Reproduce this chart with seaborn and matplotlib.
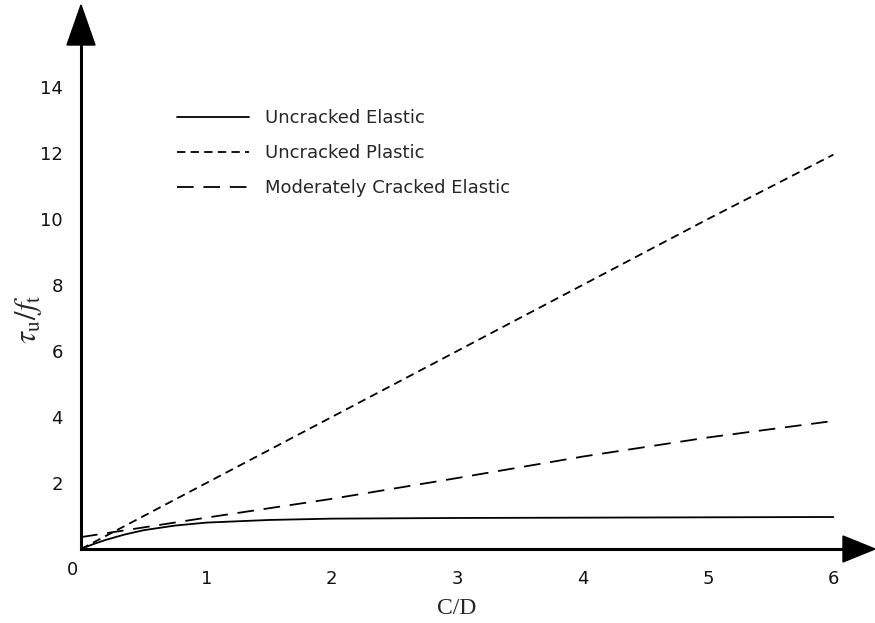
import matplotlib
matplotlib.use('Agg')
import matplotlib.pyplot as plt
from matplotlib.patches import Polygon
import seaborn as sns
import pandas as pd

# values
cd_elastic = [0, 0.1, 0.2, 0.35, 0.5, 0.75, 1, 1.5, 2, 3, 4, 5, 6]
uncracked_elastic = [0, 0.15, 0.28, 0.44, 0.57, 0.71, 0.8, 0.88, 0.92, 0.94, 0.95, 0.96, 0.97]

cd_lin = [0, 1, 2, 3, 4, 5, 6]
uncracked_plastic = [0, 2.0, 4.0, 6.0, 8.0, 10.0, 11.95]
cracked_elastic = [0.36, 0.95, 1.52, 2.15, 2.8, 3.38, 3.88]

labels = ['Uncracked Elastic', 'Uncracked Plastic', 'Moderately Cracked Elastic']
x_ticks = [1, 2, 3, 4, 5, 6]
y_ticks = [2, 4, 6, 8, 10, 12, 14]


def to_frame():
    '''stack the three curves into one long dataframe'''
    parts = [
        pd.DataFrame({'cd': cd_elastic, 'tau': uncracked_elastic, 'case': labels[0]}),
        pd.DataFrame({'cd': cd_lin, 'tau': uncracked_plastic, 'case': labels[1]}),
        pd.DataFrame({'cd': cd_lin, 'tau': cracked_elastic, 'case': labels[2]}),
    ]
    return pd.concat(parts, ignore_index=True)


sns.set_theme(style='white')
plt.rcParams['font.family'] = ['DejaVu Sans']
plt.rcParams['mathtext.fontset'] = 'stix'
plt.rcParams['lines.scale_dashes'] = False

W, H = 875, 623
fig = plt.figure(figsize=(W / 100, H / 100), dpi=100)
# axes box in pixels: origin (81, 549), arrow bases at x=843 / y=45
ax = fig.add_axes([81 / W, 1 - 549 / H, (843 - 81) / W, (549 - 45) / H])

df = to_frame()
lw = 1.3
sns.lineplot(data=df, x='cd', y='tau', style='case', style_order=labels,
             dashes={labels[0]: '', labels[1]: (6.0, 3.8), labels[2]: (12.0, 7.0)},
             color='black', linewidth=lw, ax=ax, legend='full', sort=False)

ax.set_xlim(0, (843 - 81) / 125.4)
ax.set_ylim(0, (549 - 45) / 33.0)

for side in ['top', 'right']:
    ax.spines[side].set_visible(False)
for side in ['left', 'bottom']:
    ax.spines[side].set_linewidth(2.2)
    ax.spines[side].set_color('black')

ax.set_xticks(x_ticks)
ax.set_yticks(y_ticks)
ax.tick_params(axis='both', length=0, labelsize=13, colors='#111111')
ax.tick_params(axis='x', pad=15)
ax.tick_params(axis='y', pad=13)
ax.grid(False)

ax.set_xlabel('')
ax.set_ylabel('')
fig.text(457 / W, 1 - 608 / H, 'C/D', ha='center', va='center',
         fontsize=17, family='Liberation Serif')
fig.text(29 / W, 1 - 319 / H, r'$\tau_{\mathrm{u}}/f_{\mathrm{t}}$', ha='center', va='center',
         fontsize=22, rotation=90)
fig.text(72 / W, 1 - 570 / H, '0', ha='center', va='center', fontsize=13, color='#111111')

# arrow heads on the axes
def px(points):
    return [(x / W, 1 - y / H) for x, y in points]

fig.patches.append(Polygon(px([(67, 45), (95, 45), (81, 5)]), closed=True,
                           transform=fig.transFigure, color='black', figure=fig))
fig.patches.append(Polygon(px([(843, 536), (843, 562), (875, 549)]), closed=True,
                           transform=fig.transFigure, color='black', figure=fig))

handles, names = ax.get_legend_handles_labels()
for h in handles:
    h.set_linewidth(lw)
    h.set_color('black')
ax.legend(handles, names, loc='upper left', bbox_to_anchor=(177 / W, 1 - 109 / H),
          bbox_transform=fig.transFigure, frameon=False, fontsize=13,
          handlelength=4.0, handletextpad=0.9, labelspacing=0.95,
          borderpad=0, borderaxespad=0)

fig.savefig('out.png', dpi=100)
